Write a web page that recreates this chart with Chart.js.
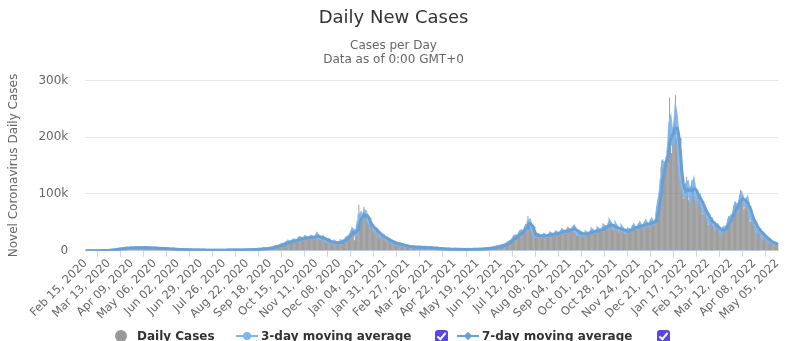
<!DOCTYPE html>
<html>
<head>
<meta charset="utf-8">
<script src="https://cdn.jsdelivr.net/npm/chart.js@4.4.1/dist/chart.umd.min.js"></script>
<style>
  html, body { margin: 0; padding: 0; background: #fff; }
  #wrap { position: relative; width: 787px; height: 341px; overflow: hidden; font-family: "DejaVu Sans", sans-serif; }
  #chart { position: absolute; left: 0; top: 0; }
  .lg { position: absolute; top: 329px; height: 14px; font-size: 12px; font-weight: bold; color: #333; line-height: 14px; white-space: nowrap; }
  .dot { position: absolute; border-radius: 50%; }
  .ln { position: absolute; height: 2px; }
  .chk { position: absolute; top: 330px; width: 13px; height: 13px; border-radius: 3px; background: #5847e8; }
  .chk::after { content: ""; position: absolute; left: 4px; top: 1px; width: 3px; height: 7px; border: solid #fff; border-width: 0 2px 2px 0; transform: rotate(40deg); }
  .dia { position: absolute; width: 6px; height: 6px; transform: rotate(45deg); }
</style>
</head>
<body>
<div id="wrap">
  <canvas id="chart" width="787" height="341"></canvas>
  <div class="dot" style="left:115px;top:330px;width:12px;height:12px;background:#999;"></div>
  <div class="lg" style="left:137px;">Daily Cases</div>
  <div class="ln" style="left:236px;top:335px;width:22px;background:#7cb5ec;"></div>
  <div class="dot" style="left:243px;top:332px;width:8px;height:8px;background:#7cb5ec;"></div>
  <div class="lg" style="left:261px;">3-day moving average</div>
  <div class="chk" style="left:435px;"></div>
  <div class="ln" style="left:457px;top:335px;width:22px;background:#6a9fd4;"></div>
  <div class="dia" style="left:465px;top:333px;background:#6a9fd4;"></div>
  <div class="lg" style="left:482px;">7-day moving average</div>
  <div class="chk" style="left:657px;"></div>
</div>
<script>
// Daily new cases in thousands, one row per week, first day Sat Feb 15, 2020.
const dailyNewCases = [
  0,0,0,0,0,0,0,
  0,0,0,0,0,0,0,
  0,0,0.02,0.05,0.05,0.08,0.1,
  0.1,0.15,0.2,0.3,0.35,0.45,0.55,
  0.7,0.8,0.9,1.1,1.4,1.6,1.9,
  2.1,2.3,2.4,2.8,3.1,3.4,3.6,
  3.5,3.3,3.6,4.2,4.4,4.6,4.4,
  4.6,4.0,4.2,5.0,5.2,5.4,5.2,
  5.0,4.3,4.5,5.2,5.4,5.6,5.0,
  5.1,4.4,4.4,5.1,5.3,5.6,5.1,
  4.9,4.1,4.2,5.0,5.2,5.3,4.9,
  4.5,3.8,3.9,4.6,4.8,4.8,4.4,
  3.9,3.3,3.3,4.0,4.1,4.2,3.8,
  3.3,2.8,2.8,3.4,3.5,3.5,3.1,
  2.7,2.2,2.3,2.8,2.9,2.8,2.5,
  2.1,1.7,1.8,2.1,2.2,2.2,1.9,
  1.7,1.4,1.4,1.7,1.8,1.7,1.5,
  1.3,1.1,1.1,1.4,1.5,1.4,1.3,
  1.1,0.9,0.9,1.2,1.2,1.2,1.1,
  0.9,0.8,0.8,0.9,1.0,1.0,0.9,
  0.8,0.7,0.7,0.8,0.9,0.9,0.8,
  0.8,0.6,0.7,0.8,0.9,0.9,0.9,
  0.8,0.7,0.7,0.8,0.9,0.9,0.8,
  0.9,0.8,0.8,0.9,1.0,1.0,0.9,
  1.0,0.8,0.9,1.0,1.1,1.1,1.1,
  1.1,0.9,1.0,1.2,1.2,1.2,1.1,
  1.3,1.1,1.1,1.4,1.4,1.4,1.4,
  1.5,1.3,1.4,1.7,1.7,1.8,1.8,
  2.0,1.8,1.9,2.3,2.4,2.5,2.5,
  2.8,2.5,2.6,3.1,3.2,3.4,3.4,
  3.6,3.2,3.5,4.2,4.3,4.6,4.6,
  5.4,5.0,5.6,6.8,7.2,7.5,7.9,
  8.2,7.6,8.3,10.2,10.5,11.1,10.6,
  12.0,11.2,12.6,14.8,15.4,16.1,15.9,
  15.6,13.9,14.8,17.9,18.5,19.2,19.1,
  17.8,16.0,17.2,21.5,22.4,23.1,22.0,
  21.0,18.1,19.5,23.8,24.6,25.4,21.6,
  22.9,19.4,20.3,24.2,25.7,26.5,22.0,
  24.2,21.0,21.8,27.5,29.6,30.1,20.8,
  22.4,18.7,19.2,23.4,25.1,24.0,21.2,
  17.6,15.2,15.0,18.4,19.3,19.8,13.7,
  14.8,12.1,12.8,14.9,15.6,16.2,11.6,
  13.7,12.4,13.2,15.9,17.0,18.1,14.7,
  18.4,17.2,18.5,22.0,23.5,24.8,22.6,
  27.2,28.3,30.9,36.1,39.5,35.2,32.4,
  18.4,29.6,41.2,53.1,50.4,81.0,54.8,
  57.6,55.1,59.3,62.7,77.2,68.1,59.4,
  54.6,49.1,45.8,46.2,47.7,48.1,40.3,
  38.2,33.1,32.0,36.4,37.5,37.8,29.6,
  28.3,23.6,22.4,25.1,28.0,28.4,23.2,
  21.2,16.9,17.5,19.3,20.6,21.1,16.4,
  15.1,12.4,12.0,14.2,14.8,15.3,12.9,
  11.4,9.7,9.8,11.6,12.4,12.1,10.3,
  8.5,7.0,7.2,8.3,9.0,9.1,7.6,
  6.9,5.6,5.8,6.8,7.2,7.0,6.3,
  6.1,5.4,5.3,6.3,6.6,6.5,5.9,
  5.7,4.7,4.9,5.8,6.0,6.1,5.4,
  5.1,4.4,4.3,5.2,5.5,5.6,4.9,
  4.4,3.6,3.7,4.4,4.6,4.8,4.0,
  3.3,2.7,2.8,3.4,3.6,3.6,3.0,
  2.8,2.2,2.2,2.7,2.9,2.9,2.5,
  2.4,1.9,2.0,2.4,2.6,2.6,2.2,
  2.3,1.8,1.9,2.3,2.5,2.5,2.1,
  2.2,1.7,1.8,2.2,2.4,2.4,2.0,
  2.3,1.8,1.9,2.3,2.5,2.4,2.2,
  2.5,2.0,2.1,2.5,2.7,2.7,2.3,
  3.0,2.5,2.6,3.2,3.4,3.4,2.9,
  4.0,3.3,3.5,4.2,4.5,4.6,3.9,
  5.8,5.0,5.3,6.3,6.8,6.9,6.0,
  8.1,7.3,7.6,9.0,9.4,9.7,8.4,
  11.7,10.6,11.2,13.5,14.6,15.2,14.3,
  18.6,17.4,19.5,23.6,25.1,26.4,23.7,
  27.2,24.9,26.3,31.8,33.7,35.4,30.6,
  36.2,33.5,35.8,42.4,44.1,46.9,41.3,
  61.2,52.6,45.3,41.8,34.2,31.7,28.1,
  29.4,24.2,22.8,27.1,28.6,29.2,25.3,
  27.0,22.5,22.9,27.8,28.4,29.0,24.6,
  28.3,23.4,24.6,29.5,30.9,31.4,27.2,
  30.1,25.8,26.2,31.9,33.6,33.0,28.7,
  32.7,28.0,29.3,35.4,36.8,37.5,31.6,
  34.9,30.4,30.8,37.6,38.9,39.4,33.2,
  38.6,33.1,34.5,42.7,43.9,40.2,33.4,
  32.1,26.5,27.2,32.6,33.8,34.1,28.9,
  29.2,24.6,25.0,30.8,32.3,33.1,27.4,
  32.8,28.4,28.9,35.6,36.9,37.3,31.5,
  34.4,30.1,30.8,37.9,38.6,39.0,33.8,
  37.7,33.6,35.2,42.1,43.8,44.6,38.4,
  44.1,38.9,40.3,49.5,52.2,50.8,42.6,
  42.0,36.4,37.1,45.3,45.8,43.9,37.2,
  38.1,32.6,33.2,41.0,42.1,40.7,34.5,
  34.9,29.3,29.8,37.1,38.2,37.4,31.6,
  39.5,34.6,35.7,44.2,45.1,44.0,37.0,
  42.8,37.1,38.4,47.3,48.5,47.0,39.6,
  45.4,39.9,41.2,50.6,51.9,51.1,42.3,
  48.0,42.7,44.1,53.6,55.2,54.4,45.5,
  50.2,45.9,51.3,66.8,78.4,88.7,94.1,
  104,121,148,158,161,144,156,
  162,158,176,188,214,270,205,
  172,189,208,226,236,274,198,
  176,148,132,125,118,110,104,
  92,96,108,118,130,112,90,
  86,98,112,124,118,125,96,
  88,84,94,101,98,95,82,
  76,64,72,78,74,70,59,
  56,45,52,58,56,54,46,
  44,36,40,46,45,44,38,
  36,29,31,38,40,42,37,
  44,39,45,55,59,61,55,
  64,59,66,79,83,86,75,
  82,75,88,98,107,96,87,
  90,72,76,92,94,86,68,
  64,52,51,60,58,52,44,
  42,33,32,38,39,36,31,
  30,23,22,27,27,25,21,
  19,15,14,17,17,16,14,
  13,10,9.5,12,11.5,11,10
];

const tickLabels = [
  'Feb 15, 2020','Mar 13, 2020','Apr 09, 2020','May 06, 2020','Jun 02, 2020','Jun 29, 2020',
  'Jul 26, 2020','Aug 22, 2020','Sep 18, 2020','Oct 15, 2020','Nov 11, 2020','Dec 08, 2020',
  'Jan 04, 2021','Jan 31, 2021','Feb 27, 2021','Mar 26, 2021','Apr 22, 2021','May 19, 2021',
  'Jun 15, 2021','Jul 12, 2021','Aug 08, 2021','Sep 04, 2021','Oct 01, 2021','Oct 28, 2021',
  'Nov 24, 2021','Dec 21, 2021','Jan 17, 2022','Feb 13, 2022','Mar 12, 2022','Apr 08, 2022',
  'May 05, 2022'
];

const yTicks = [0, 100, 200, 300];

// One category per day, starting at the first date of the series.
const monthNames = ['Jan','Feb','Mar','Apr','May','Jun','Jul','Aug','Sep','Oct','Nov','Dec'];
const firstDay = Date.UTC(2020, 1, 15);
const dayLabels = dailyNewCases.map((_, i) => {
  const d = new Date(firstDay + i * 86400000);
  return monthNames[d.getUTCMonth()] + ' ' + String(d.getUTCDate()).padStart(2, '0') + ', ' + d.getUTCFullYear();
});

// Trailing moving average over the last n days.
function movingAverage(values, n) {
  return values.map((_, i) => {
    const from = Math.max(0, i - n + 1);
    let s = 0;
    for (let k = from; k <= i; k++) s += values[k];
    return s / (i - from + 1);
  });
}
const avg3 = movingAverage(dailyNewCases, 3);
const avg7 = movingAverage(dailyNewCases, 7);

const tickSet = new Set(tickLabels);
const font = '"DejaVu Sans", sans-serif';

new Chart(document.getElementById('chart'), {
  type: 'bar',
  data: {
    labels: dayLabels,
    datasets: [
      { type: 'line', label: '7-day moving average', data: avg7, borderColor: '#6a9fd4', borderWidth: 3, pointRadius: 0, order: 0 },
      { type: 'line', label: '3-day moving average', data: avg3, borderColor: 'rgba(124,181,236,0.9)', borderWidth: 3, pointRadius: 0, order: 1 },
      { type: 'bar', label: 'Daily Cases', data: dailyNewCases, backgroundColor: '#858585', barPercentage: 1, categoryPercentage: 0.9, order: 2 }
    ]
  },
  options: {
    responsive: false,
    animation: false,
    devicePixelRatio: 1,
    layout: { padding: { left: 0, right: 0, top: 0, bottom: 19 } },
    plugins: {
      legend: { display: false },
      tooltip: { enabled: false },
      title: { display: true, text: 'Daily New Cases', color: '#333', font: { family: font, size: 18, weight: 'normal' }, padding: { top: 8, bottom: 7 } },
      subtitle: { display: true, text: ['Cases per Day', 'Data as of 0:00 GMT+0'], color: '#666', font: { family: font, size: 12 }, padding: { top: 2, bottom: 13 } }
    },
    scales: {
      x: {
        type: 'category',
        afterBuildTicks: (axis) => { axis.ticks = axis.ticks.filter(t => tickSet.has(dayLabels[t.value])); },
        ticks: { autoSkip: false, maxRotation: 45, minRotation: 45, color: '#666', font: { family: font, size: 11.5 }, padding: 0 },
        grid: { display: true, drawOnChartArea: false, drawTicks: true, tickLength: 6, color: '#ccd6eb' },
        border: { display: true, color: '#ccd6eb' }
      },
      y: {
        min: 0, max: 300,
        afterBuildTicks: (axis) => { axis.ticks = yTicks.map(v => ({ value: v })); },
        ticks: { color: '#666', font: { family: font, size: 12 }, padding: 17, callback: v => v === 0 ? '0' : v + 'k' },
        grid: { color: '#e6e6e6', drawTicks: false },
        border: { display: false },
        title: { display: true, text: 'Novel Coronavirus Daily Cases', color: '#666', font: { family: font, size: 12 }, padding: { top: 7, bottom: 0 } }
      }
    }
  }
});
</script>
</body>
</html>
